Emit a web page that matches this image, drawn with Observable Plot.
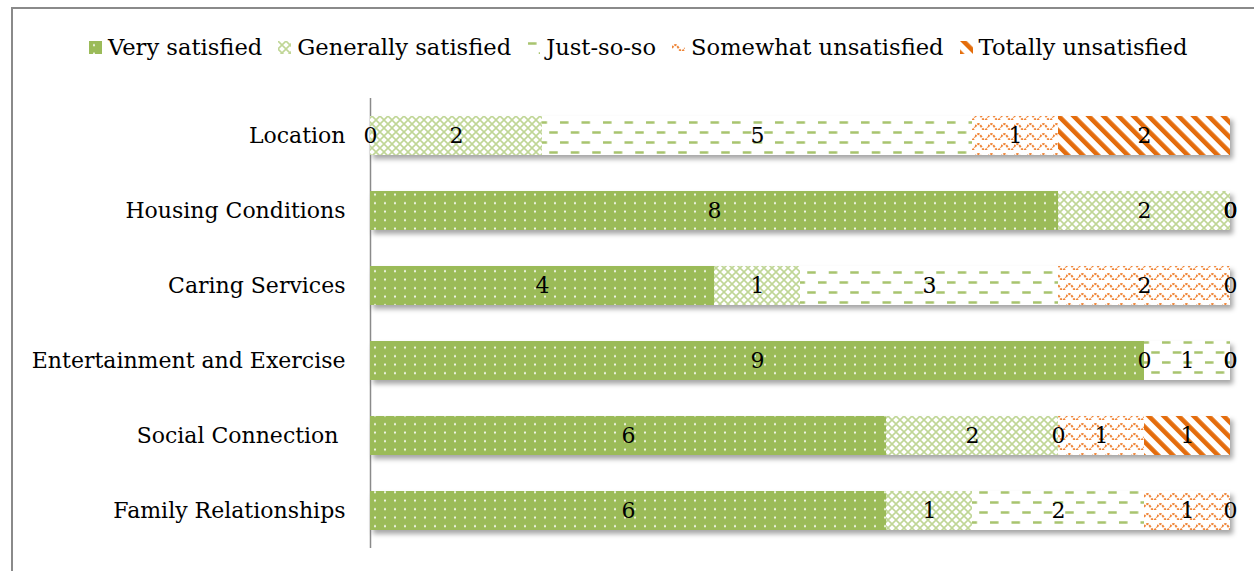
<!DOCTYPE html>
<html>
<head>
<meta charset="utf-8">
<script src="https://cdn.jsdelivr.net/npm/d3@7"></script>
<script src="https://cdn.jsdelivr.net/npm/@observablehq/plot@0.6"></script>
<style>
  html, body { margin: 0; padding: 0; background: #fff; }
  #chart { position: relative; width: 1254px; height: 571px; overflow: hidden; font-family: "DejaVu Serif", serif; }
  #frame { position: absolute; left: 11px; top: 7px; width: 1400px; height: 700px;
           border-top: 2px solid #8a8a8a; border-left: 2px solid #8a8a8a; box-sizing: border-box; }
  #legend { position: relative; height: 80px; box-sizing: border-box; padding-top: 14px; padding-left: 89px;
            display: flex; align-items: center; font-size: 22.6px; line-height: 28px; color: #000; }
  .item { display: flex; align-items: center; margin-right: 16px; white-space: nowrap; }
  .item svg { margin-right: 6px; }
  #plot { position: relative; }
  #plot svg text { white-space: pre; }
</style>
</head>
<body>
<div id="chart">
  <div id="frame"></div>
  <div id="legend"></div>
  <div id="plot"></div>
</div>
<script>
// Survey categories (top to bottom) and response levels
const categories = ["Location", "Housing Conditions", "Caring Services", "Entertainment and Exercise", "Social Connection ", "Family Relationships"];
const series = ["Very satisfied", "Generally satisfied", "Just-so-so", "Somewhat unsatisfied", "Totally unsatisfied"];

// Number of respondents per category, one array per response level
const verySatisfied       = [0, 8, 4, 9, 6, 6];
const generallySatisfied  = [2, 2, 1, 0, 2, 1];
const justSoSo            = [5, 0, 3, 1, 0, 2];
const somewhatUnsatisfied = [1, 0, 2, 0, 1, 1];
const totallyUnsatisfied  = [2, 0, 0, 0, 1, 0];

const valuesBySeries = [verySatisfied, generallySatisfied, justSoSo, somewhatUnsatisfied, totallyUnsatisfied];
const rows = [];
categories.forEach((category, ci) => {
  series.forEach((s, si) => rows.push({category, series: s, value: valuesBySeries[si][ci]}));
});

const patternIds = series.map((_, i) => `pat${i}`);

// Pattern fills shared by the bars and the legend swatches
const patternDefs = `
  <pattern id="pat0" patternUnits="userSpaceOnUse" width="10" height="8.5">
    <rect width="10" height="8.5" fill="#9bbb59"/>
    <circle cx="5" cy="4.2" r="1.05" fill="#ffffff" fill-opacity="0.95"/>
  </pattern>
  <pattern id="pat1" patternUnits="userSpaceOnUse" width="8" height="8">
    <rect width="8" height="8" fill="#ffffff"/>
    <path d="M0,0L8,8M8,0L0,8" stroke="#c0d696" stroke-width="1.6"/>
  </pattern>
  <pattern id="pat2" patternUnits="userSpaceOnUse" width="21.5" height="20">
    <rect width="21.5" height="20" fill="#ffffff"/>
    <path d="M1,2.5H9.5M11.75,12.5H20.25" stroke="#a8c46e" stroke-width="2.4"/>
  </pattern>
  <pattern id="pat3" patternUnits="userSpaceOnUse" width="13" height="10">
    <rect width="13" height="10" fill="#ffffff"/>
    <path d="M0,7 Q3.25,1 6.5,7 T13,7" fill="none" stroke="#ef8537" stroke-width="2" stroke-dasharray="2.4 1.1"/>
  </pattern>
  <pattern id="pat4" patternUnits="userSpaceOnUse" width="10.6" height="10.6" patternTransform="rotate(-45)">
    <rect width="10.6" height="10.6" fill="#ffffff"/>
    <rect width="4.6" height="10.6" fill="#e46c0a"/>
  </pattern>
  <filter id="barShadow" x="-5%" y="-30%" width="110%" height="180%">
    <feDropShadow dx="3" dy="4" stdDeviation="2.5" flood-color="#000" flood-opacity="0.35"/>
  </filter>`;

// Legend
const legend = document.getElementById("legend");
series.forEach((s, i) => {
  const item = document.createElement("div");
  item.className = "item";
  item.innerHTML = `<svg width="13" height="13"><defs>${patternDefs.replace(/id="/g, `id="lg${i}_`)}</defs>` +
    `<rect width="13" height="13" fill="url(#lg${i}_${patternIds[i]})"/></svg><span>${s}</span>`;
  legend.appendChild(item);
});

const chart = Plot.plot({
  width: 1254,
  height: 491,
  marginTop: 18,
  marginBottom: 23,
  marginLeft: 370,
  marginRight: 24,
  style: {fontFamily: "DejaVu Serif", fontSize: "22px", color: "#000", background: "transparent"},
  x: {domain: [0, 10], axis: null},
  y: {domain: categories, paddingInner: 0.48, paddingOuter: 0.24, label: null, tickSize: 0, tickPadding: 25},
  color: {domain: series, range: patternIds.map(id => `url(#${id})`)},
  marks: [
    Plot.ruleX([0], {stroke: "#8a8a8a", strokeWidth: 1.5}),
    Plot.barX(rows, Plot.stackX({x: "value", y: "category", fill: "series"})),
    Plot.textX(rows, Plot.stackX({x: "value", y: "category", z: "series", text: d => String(d.value), fill: "#000", fontSize: 22}))
  ]
});

const defs = document.createElementNS("http://www.w3.org/2000/svg", "defs");
defs.innerHTML = patternDefs;
chart.insertBefore(defs, chart.firstChild);
const barGroup = chart.querySelector('g[aria-label="bar"]');
if (barGroup) barGroup.setAttribute("filter", "url(#barShadow)");

document.getElementById("plot").appendChild(chart);
</script>
</body>
</html>
